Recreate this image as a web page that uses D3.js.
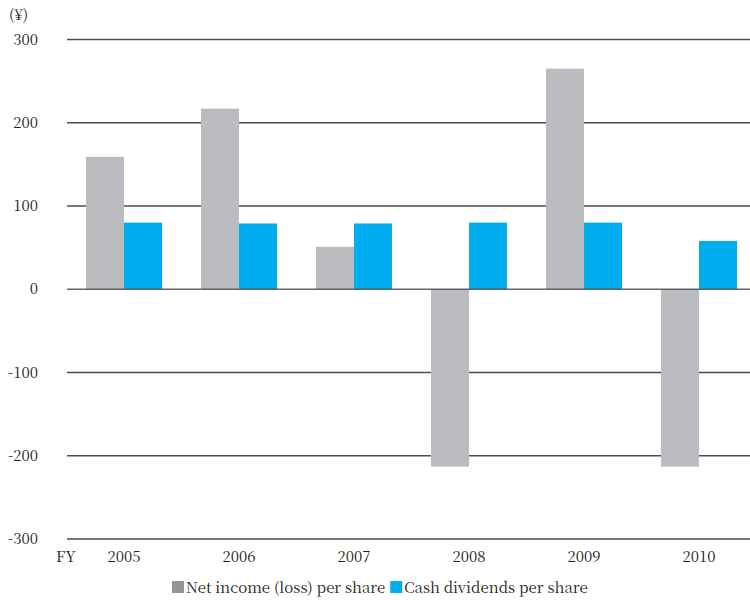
<!DOCTYPE html>
<html><head><meta charset="utf-8">
<script src="https://cdn.jsdelivr.net/npm/d3@7"></script>
<style>body{margin:0;background:#fff}svg{display:block}</style>
</head><body>
<svg id="chart" width="750" height="600"></svg>
<script>
const categories = ["2005","2006","2007","2008","2009","2010"];
const seriesNames = ["Net income (loss) per share","Cash dividends per share"];
const netIncome = [159, 217, 51, -213, 265, -213];
const dividends = [80, 79, 79, 80, 80, 58];
const yTicks = [300, 200, 100, 0, -100, -200, -300];
const colors = ["#bbbcc0", "#00adef"];
const FONT = "'Noto Serif CJK JP', 'Liberation Serif', serif";
const TXT = "#231f20";

const svg = d3.select("#chart");
const left = 66.5, right = 756.5;
const pi = 0.3391;
const x0 = d3.scaleBand().domain(categories).range([left, right]).paddingInner(pi).paddingOuter(pi/2);
const x1 = d3.scaleBand().domain(seriesNames).range([0, x0.bandwidth()]);
const y = d3.scaleLinear().domain([-300, 300]).range([539, 39.5]);

// gridlines
svg.append("g").selectAll("line").data(yTicks.filter(d => d !== 0)).join("line")
  .attr("x1", 67).attr("x2", 750)
  .attr("y1", d => y(d)).attr("y2", d => y(d))
  .attr("stroke", "#4d4d4f").attr("stroke-width", 1.3);

// y tick labels
svg.append("g").selectAll("text").data(yTicks).join("text")
  .attr("x", 38).attr("y", d => y(d) + 5)
  .attr("text-anchor", "end").attr("font-size", 15).attr("font-family", FONT).attr("fill", TXT)
  .text(d => d);

svg.append("text").attr("x", 9).attr("y", 20).attr("font-size", 15).attr("font-family", FONT).attr("fill", TXT).text("(¥)");

// bars
const data = categories.map((c, i) => ({cat: c, vals: [netIncome[i], dividends[i]]}));
const groups = svg.append("g").selectAll("g").data(data).join("g")
  .attr("transform", d => `translate(${x0(d.cat)},0)`);
groups.selectAll("rect").data(d => d.vals.map((v, j) => ({v, s: seriesNames[j], j}))).join("rect")
  .attr("x", d => x1(d.s))
  .attr("width", x1.bandwidth())
  .attr("y", d => y(Math.max(0, d.v)))
  .attr("height", d => Math.abs(y(d.v) - y(0)))
  .attr("fill", d => colors[d.j]);

// zero line on top
svg.append("line").attr("x1", 67).attr("x2", 750).attr("y1", y(0)).attr("y2", y(0))
  .attr("stroke", "#4d4d4f").attr("stroke-width", 1.3).attr("opacity", 0.85);

// x axis labels
svg.append("g").selectAll("text").data(categories).join("text")
  .attr("x", d => x0(d) + x0.bandwidth()/2).attr("y", 562)
  .attr("text-anchor", "middle").attr("font-size", 15).attr("font-family", FONT).attr("fill", TXT)
  .text(d => d);
svg.append("text").attr("x", 56).attr("y", 562).attr("font-size", 15).attr("font-family", FONT).attr("fill", TXT).text("FY");

// legend
let lx = 172;
seriesNames.forEach((s, i) => {
  svg.append("rect").attr("x", lx).attr("y", 581).attr("width", 12).attr("height", 12).attr("fill", i === 0 ? "#939598" : colors[1]);
  const t = svg.append("text").attr("x", lx + 14).attr("y", 593).attr("font-size", 15).attr("font-family", FONT).attr("fill", TXT).text(s);
  lx = lx + 14 + t.node().getComputedTextLength() + 5;
});
</script>
</body></html>
